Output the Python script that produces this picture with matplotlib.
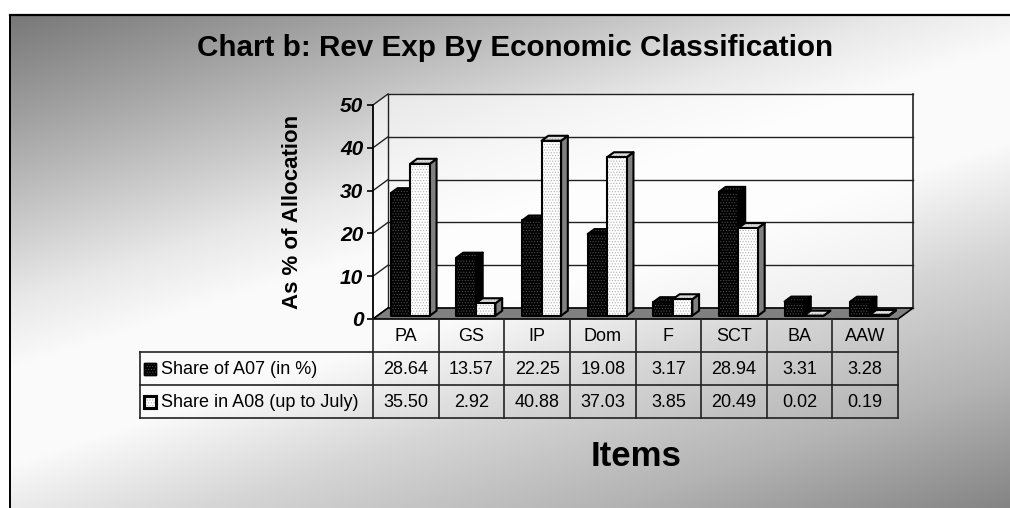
import numpy as np
import matplotlib
matplotlib.use('Agg')
import matplotlib.pyplot as plt
from matplotlib.patches import Polygon, Rectangle
from matplotlib.transforms import Affine2D, blended_transform_factory
from matplotlib.lines import Line2D

# ---------------- data ----------------
categories = ['PA', 'GS', 'IP', 'Dom', 'F', 'SCT', 'BA', 'AAW']
share_a07 = [28.64, 13.57, 22.25, 19.08, 3.17, 28.94, 3.31, 3.28]
share_a08 = [35.50, 2.92, 40.88, 37.03, 3.85, 20.49, 0.02, 0.19]
series_names = ['Share of A07 (in %)', 'Share in A08 (up to July)']
y_ticks = [0, 10, 20, 30, 40, 50]
title = 'Chart b: Rev Exp By Economic Classification'
y_label = 'As % of Allocation'
x_label = 'Items'

# ---------------- layout ----------------
W, H = 1010, 508
DPI = 100
plt.rcParams['font.family'] = ['Liberation Sans', 'DejaVu Sans']
plt.rcParams['hatch.linewidth'] = 0.5

fig = plt.figure(figsize=(W / DPI, H / DPI), dpi=DPI)
fig.patch.set_facecolor('white')

# background gradient (dark top-left -> white band -> dark bottom-right)
yy, xx = np.mgrid[0:H, 0:W]
s = xx + 3.1 * yy
knots_s = [0, 53, 423, 940, 1150, 1450, 1775, 2175, 2700]
knots_v = [113, 119, 165, 232, 250, 250, 214, 180, 118]
v = np.interp(s, knots_s, knots_v) / 255.0
img = np.ones((H, W, 3))
inside = (xx >= 10) & (yy >= 15)
img[inside] = v[inside][:, None]
fig.figimage(img, 0, 0, origin='upper', zorder=-3)

# lighter version for the chart walls
vw = 1.0 - (1.0 - v) * 0.4
wall_img = np.repeat(vw[:, :, None], 3, axis=2)
wall_art = fig.figimage(wall_img, 0, 0, origin='upper', zorder=-2)

# pixel transform (x from left, y from top)
pix = Affine2D().scale(1, -1).translate(0, H)
fig.add_artist(Line2D([9.5, W], [14.5, 14.5], transform=pix, color='black', lw=1.6))
fig.add_artist(Line2D([9.5, 9.5], [14.5, H], transform=pix, color='black', lw=1.4))

# front plane of the 3D chart
FX0, FX1, FY0, FY50 = 373, 898, 319, 105
ax = fig.add_axes([FX0 / W, 1 - FY0 / H, (FX1 - FX0) / W, (FY0 - FY50) / H])
ax.set_zorder(1)
n = len(categories)
ymax = y_ticks[-1]
ax.set_xlim(0, n)
ax.set_ylim(0, ymax)
ax.patch.set_visible(False)
for sp in ['top', 'right', 'bottom']:
    ax.spines[sp].set_visible(False)
ax.spines['left'].set_linewidth(1.3)
ax.spines['left'].set_zorder(5)
ax.set_xticks([])
ax.set_yticks(y_ticks)
ax.tick_params(axis='y', length=4, width=1.2, pad=3, labelsize=15)
for lab in ax.get_yticklabels():
    lab.set_fontweight('bold')
    lab.set_fontstyle('italic')
ax.set_ylabel(y_label, fontsize=16, fontweight='bold')
ax.yaxis.set_label_coords(-0.133, 0.5)

ux = n / (FX1 - FX0)
uy = ymax / (FY0 - FY50)
ddx, ddy = 15 * ux, 11 * uy  # depth vector in data units

# clip the wall gradient to the back + side walls
wall_poly = Polygon([(0, 0), (ddx, ddy), (n + ddx, ddy), (n + ddx, ymax + ddy),
                     (ddx, ymax + ddy), (0, ymax)], closed=True, transform=ax.transData)
wall_art.set_clip_path(wall_poly)

LC = '#222222'
# back wall gridlines and side-wall diagonals
for yt in y_ticks:
    ax.plot([ddx, n + ddx], [yt + ddy, yt + ddy], color=LC, lw=1.0, clip_on=False, zorder=1)
    ax.plot([0, ddx], [yt, yt + ddy], color=LC, lw=1.0, clip_on=False, zorder=1)
ax.plot([ddx, ddx], [ddy, ymax + ddy], color=LC, lw=1.0, clip_on=False, zorder=1)
ax.plot([n + ddx, n + ddx], [ddy, ymax + ddy], color=LC, lw=1.2, clip_on=False, zorder=1)

# floor
ax.add_patch(Polygon([(0, 0), (n, 0), (n + ddx, ddy), (ddx, ddy)], closed=True,
                     facecolor='#808080', edgecolor='black', lw=1.2, clip_on=False, zorder=1.5))

# bars
bw = 19.5 * ux
f0, f1 = 0.3, 0.75
ox0, oy0 = f0 * ddx, f0 * ddy
ox1, oy1 = f1 * ddx, f1 * ddy


def add_poly(pts, fc, hatch_col):
    ax.add_patch(Polygon(pts, closed=True, facecolor=fc, edgecolor='none', lw=0,
                         clip_on=False, zorder=3))
    if hatch_col is not None:
        ax.add_patch(Polygon(pts, closed=True, facecolor='none', edgecolor=hatch_col,
                             hatch='......', lw=0, clip_on=False, zorder=3))
    ax.add_patch(Polygon(pts, closed=True, facecolor='none', edgecolor='black', lw=1.5,
                         joinstyle='round', clip_on=False, zorder=3))


def draw_bar(x0, x1, h, front_c, side_c, top_c, hatch_col):
    front = [(x0 + ox0, oy0), (x1 + ox0, oy0), (x1 + ox0, h + oy0), (x0 + ox0, h + oy0)]
    side = [(x1 + ox0, oy0), (x1 + ox1, oy1), (x1 + ox1, h + oy1), (x1 + ox0, h + oy0)]
    top = [(x0 + ox0, h + oy0), (x1 + ox0, h + oy0), (x1 + ox1, h + oy1), (x0 + ox1, h + oy1)]
    add_poly(side, side_c, None)
    add_poly(top, top_c, hatch_col)
    add_poly(front, front_c, hatch_col)


for i in range(n):
    c = i + 0.5
    draw_bar(c - bw, c, share_a07[i], 'black', 'black', 'black', '#505050')
    draw_bar(c, c + bw, share_a08[i], 'white', '#808080', '#e0e0e0', '#b0b0b0')

# ---------------- data table ----------------
bt = blended_transform_factory(ax.transData, pix)
row_y = [FY0, 352, 385, 418]
LABEL_X = 140
for y in row_y[1:]:
    fig.add_artist(Line2D([LABEL_X, FX1], [y, y], transform=pix, color=LC, lw=1.2))
for k in range(n + 1):
    fig.add_artist(Line2D([k, k], [row_y[0], row_y[-1]], transform=bt, color=LC, lw=1.2))
fig.add_artist(Line2D([LABEL_X, LABEL_X], [row_y[1], row_y[-1]], transform=pix, color=LC, lw=1.2))

for i, cat in enumerate(categories):
    fig.text(i + 0.5, (row_y[0] + row_y[1]) / 2 + 1, cat, transform=bt, ha='center', va='center',
             fontsize=13)
    fig.text(i + 0.5, (row_y[1] + row_y[2]) / 2 + 1, f'{share_a07[i]:.2f}', transform=bt,
             ha='center', va='center', fontsize=13)
    fig.text(i + 0.5, (row_y[2] + row_y[3]) / 2 + 1, f'{share_a08[i]:.2f}', transform=bt,
             ha='center', va='center', fontsize=13)

# legend keys in table
for r, (name, fc, hc, lw) in enumerate([(series_names[0], 'black', '#505050', 1.0),
                                         (series_names[1], 'white', '#b0b0b0', 2.2)]):
    yc = (row_y[r + 1] + row_y[r + 2]) / 2
    fig.add_artist(Rectangle((144, yc + 6), 12, -12, transform=pix, facecolor=fc,
                             edgecolor='black', lw=lw))
    fig.add_artist(Rectangle((144, yc + 6), 12, -12, transform=pix, facecolor='none',
                             edgecolor=hc, hatch='......', lw=0))
    fig.add_artist(Rectangle((144, yc + 6), 12, -12, transform=pix, facecolor='none',
                             edgecolor='black', lw=lw))
    fig.text(161, yc + 1, name, transform=pix, ha='left', va='center', fontsize=13)

# titles
fig.text(515, 48, title, transform=pix, ha='center', va='center', fontsize=21.3, fontweight='bold')
fig.text(636, 456, x_label, transform=pix, ha='center', va='center', fontsize=25, fontweight='bold')

fig.savefig('out.png', dpi=DPI)
